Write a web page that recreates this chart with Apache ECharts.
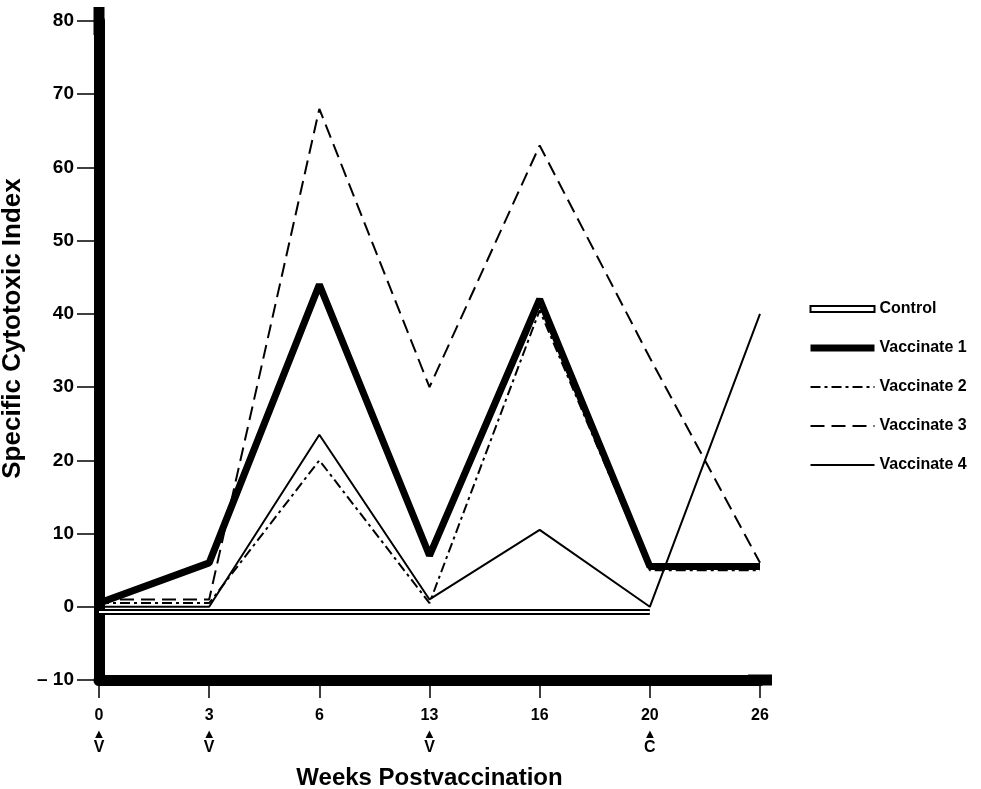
<!DOCTYPE html>
<html lang="en">
<head>
    <meta charset="UTF-8">
    <title>Specific Cytotoxic Index</title>
    <script src="https://cdn.jsdelivr.net/npm/echarts@6/dist/echarts.min.js"></script>
    <style type="text/css">
        html, body { margin: 0; padding: 0; background: #fff; }
        #main { width: 981px; height: 789px; }
    </style>
</head>
<body>
<div id="main"></div>
<script>
    var weeks = ['0', '3', '6', '13', '16', '20', '26'];
    var marks = ['V', 'V', '', 'V', '', 'C', ''];
    var control = [-0.7, -0.7, -0.7, -0.7, -0.7, -0.7, null];
    var vacc1 = [0.5, 6, 44, 7, 42, 5.5, 5.5];
    var vacc2 = [0.5, 0.5, 20, 0.5, 40.5, 5, 5];
    var vacc3 = [1, 1, 68, 30, 63, 34, 6];
    var vacc4 = [0, 0, 23.5, 1, 10.5, 0, 40];

    var font = '"Liberation Sans", Arial, Helvetica, sans-serif';
    var myChart = echarts.init(document.getElementById('main'));

    function line(name, data, width, type) {
        return {
            name: name,
            type: 'line',
            data: data,
            symbol: 'none',
            silent: true,
            z: 3,
            itemStyle: { color: '#000' },
            lineStyle: { color: '#000', width: width, type: type }
        };
    }

    var option = {
        animation: false,
        backgroundColor: '#fff',
        grid: { left: 99, right: 221, top: 21, bottom: 109, outerBoundsMode: 'none', containLabel: false },
        legend: {
            orient: 'vertical',
            left: 802,
            top: 296,
            itemWidth: 64,
            itemHeight: 14,
            itemGap: 23,
            itemStyle: { opacity: 0 },
            lineStyle: { width: 'inherit' },
            textStyle: { fontFamily: font, fontWeight: 'bold', fontSize: 16, color: '#000' },
            data: [
                {
                    name: 'Control',
                    icon: 'path://M0,0h64v6h-64z',
                    itemStyle: { opacity: 1, color: '#fff', borderColor: '#000', borderWidth: 2 }
                },
                'Vaccinate 1', 'Vaccinate 2', 'Vaccinate 3', 'Vaccinate 4'
            ]
        },
        xAxis: {
            type: 'category',
            data: weeks,
            boundaryGap: false,
            name: 'Weeks Postvaccination',
            nameLocation: 'middle',
            nameGap: 86,
            nameTextStyle: { fontFamily: font, fontWeight: 'bold', fontSize: 24, color: '#000' },
            axisLine: {
                onZero: false,
                symbol: ['none', 'rect'],
                symbolSize: [11, 24],
                lineStyle: { color: '#000', width: 11 }
            },
            axisTick: { length: 18, lineStyle: { color: '#000', width: 1.5 } },
            axisLabel: {
                margin: 26,
                formatter: function (v, i) {
                    var m = marks[i];
                    return '{n|' + v + '}' + (m ? '\n{a|▲}\n{v|' + m + '}' : '');
                },
                rich: {
                    n: { fontFamily: font, fontWeight: 'bold', fontSize: 16, color: '#000', lineHeight: 20 },
                    a: { fontSize: 13, color: '#000', lineHeight: 14, padding: [2, 0, 0, 0] },
                    v: { fontFamily: font, fontWeight: 'bold', fontSize: 16, color: '#000', lineHeight: 16 }
                }
            },
            splitLine: { show: false }
        },
        yAxis: {
            type: 'value',
            min: -10,
            max: 80,
            interval: 10,
            name: 'Specific Cytotoxic Index',
            nameLocation: 'middle',
            nameGap: 58,
            nameTextStyle: { fontFamily: font, fontWeight: 'bold', fontSize: 26, color: '#000', padding: [0, 0, 0, 44] },
            axisLine: {
                show: true,
                symbol: ['none', 'rect'],
                symbolSize: [11, 28],
                lineStyle: { color: '#000', width: 11 }
            },
            axisTick: { show: true, length: 22, lineStyle: { color: '#000', width: 1.5 } },
            axisLabel: {
                margin: 25,
                fontFamily: font,
                fontWeight: 'bold',
                fontSize: 19,
                color: '#000',
                formatter: function (v) { return v < 0 ? '\u2013 ' + Math.abs(v) : String(v); }
            },
            splitLine: { show: false }
        },
        series: [
            line('Control', control, 6, 'solid'),
            {
                name: 'controlInner',
                type: 'line',
                data: control,
                symbol: 'none',
                silent: true,
                z: 4,
                lineStyle: { color: '#fff', width: 2 }
            },
            line('Vaccinate 1', vacc1, 7, 'solid'),
            line('Vaccinate 2', vacc2, 2, [10, 4, 3, 4]),
            line('Vaccinate 3', vacc3, 2, [14, 7]),
            line('Vaccinate 4', vacc4, 2, 'solid')
        ]
    };
    myChart.setOption(option);
</script>
</body>
</html>
